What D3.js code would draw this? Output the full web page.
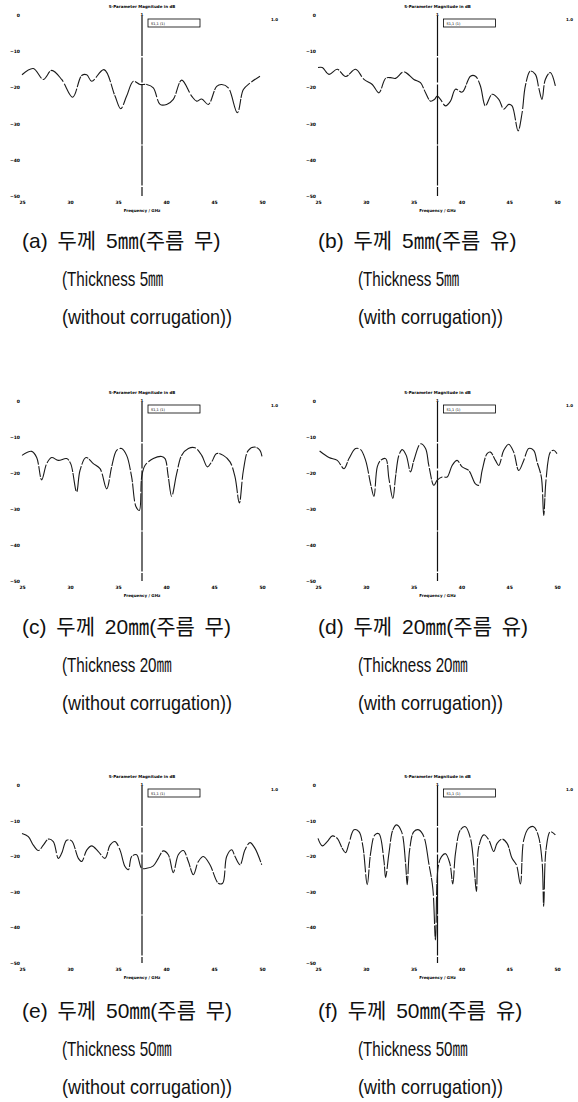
<!DOCTYPE html>
<html>
<head>
<meta charset="utf-8">
<script src="https://cdn.jsdelivr.net/npm/d3@7"></script>
<style>
body { margin: 0; background: #fff; }
.tiny { font-family: "DejaVu Sans", sans-serif; font-weight: bold; fill: #000; }
.cap { font-family: "Liberation Sans", "Noto Sans CJK KR", sans-serif; font-size: 20px; fill: #111; }
</style>
</head>
<body>
<div id="chart"></div>
<script>
// axis ticks
var freqTicks = [25, 30, 35, 40, 45, 50];
var dbTicks = [0, -10, -20, -30, -40, -50];
var markerFreq = 37.5;

// (a) 5mm without corrugation
var freqA = [25.0, 26.18, 27.22, 28.09, 29.13, 30.28, 31.22, 31.74, 32.26, 33.54, 34.69, 35.28, 35.90, 36.60, 37.29, 37.99, 38.68, 39.38, 40.07, 40.76, 41.63, 42.67, 43.19, 43.72, 44.41, 45.28, 45.80, 46.49, 47.43, 48.06, 48.75, 49.79];
var dbA = [-16.5, -14.8, -17.8, -15.3, -17.8, -22.7, -16.7, -16.5, -18.3, -15.1, -22.4, -25.9, -22.4, -18.3, -19.2, -19.2, -20.1, -24.7, -24.7, -23.3, -18.0, -22.4, -23.8, -23.2, -24.7, -19.7, -19.2, -20.1, -27.0, -20.6, -18.8, -16.9];

// (b) 5mm with corrugation
var freqB = [25.0, 25.45, 26.15, 27.02, 27.89, 28.93, 29.81, 30.68, 31.37, 32.07, 32.59, 33.11, 33.98, 35.03, 35.72, 36.25, 36.77, 37.19, 37.47, 37.81, 38.34, 38.86, 39.38, 40.08, 40.95, 41.47, 41.99, 42.51, 43.21, 43.91, 44.43, 44.95, 45.30, 45.93, 46.35, 46.69, 47.21, 47.74, 48.09, 48.43, 48.78, 49.30, 49.83];
var dbB = [-14.5, -14.5, -16.4, -15.0, -17.0, -15.0, -17.8, -19.2, -21.5, -17.5, -17.3, -17.5, -15.7, -17.8, -18.7, -21.5, -23.8, -23.3, -22.4, -23.3, -25.1, -23.8, -20.5, -21.3, -16.9, -16.9, -19.6, -25.1, -21.9, -23.3, -26.0, -24.7, -25.1, -32.0, -27.0, -19.6, -15.5, -16.4, -20.1, -23.3, -17.8, -15.9, -19.6];

// (c) 20mm without corrugation
var freqC = [25.0, 26.01, 26.53, 27.05, 27.57, 28.09, 28.78, 29.65, 30.07, 30.69, 31.04, 31.67, 32.43, 33.13, 33.82, 34.34, 34.86, 35.38, 35.90, 36.42, 36.88, 37.22, 37.47, 37.81, 38.68, 39.55, 39.90, 40.24, 40.59, 41.11, 41.63, 42.33, 43.02, 43.72, 44.31, 44.76, 45.28, 45.97, 46.67, 47.19, 47.64, 48.06, 48.58, 49.27, 49.79, 50.0];
var dbC = [-15.1, -14.0, -15.7, -21.9, -17.4, -15.7, -16.5, -16.0, -17.4, -25.3, -19.3, -15.7, -17.4, -18.8, -24.4, -18.3, -13.7, -13.2, -15.1, -21.1, -29.4, -30.4, -21.1, -17.9, -16.0, -15.4, -16.0, -21.1, -26.5, -20.2, -15.1, -13.2, -13.0, -15.1, -18.3, -16.9, -14.6, -15.1, -16.9, -21.1, -28.3, -19.3, -13.7, -12.8, -13.7, -15.4];

// (d) 20mm with corrugation
var freqD = [25.17, 26.15, 27.02, 27.72, 28.24, 28.93, 29.46, 29.98, 30.50, 30.85, 31.20, 31.55, 32.07, 32.42, 32.83, 33.11, 33.46, 33.81, 34.23, 34.68, 35.03, 35.72, 36.25, 36.59, 37.12, 37.47, 37.99, 38.51, 39.03, 39.55, 40.08, 40.77, 41.47, 41.82, 42.17, 42.69, 43.04, 43.56, 43.91, 44.43, 44.95, 45.47, 46.00, 46.52, 47.04, 47.56, 47.91, 48.36, 48.61, 48.85, 49.30, 49.65, 50.0];
var dbD = [-13.9, -15.7, -16.5, -18.8, -16.0, -13.2, -13.5, -16.5, -23.0, -26.5, -18.3, -16.5, -16.0, -21.6, -27.1, -21.1, -15.1, -13.5, -15.1, -19.7, -16.5, -11.9, -13.2, -17.9, -23.4, -22.0, -21.1, -21.1, -17.9, -16.5, -18.3, -19.3, -23.0, -23.4, -19.3, -14.6, -14.2, -16.5, -17.9, -13.7, -12.0, -14.2, -19.3, -16.5, -13.2, -13.7, -16.9, -21.1, -31.8, -22.0, -14.2, -13.7, -14.6];

// (e) 50mm without corrugation
var freqE = [25.0, 25.66, 26.18, 26.70, 27.22, 27.74, 28.26, 28.78, 29.13, 29.65, 30.17, 30.87, 31.22, 31.74, 32.26, 32.95, 33.65, 34.17, 34.69, 35.21, 35.73, 36.08, 36.42, 36.94, 37.47, 37.99, 38.68, 39.20, 39.72, 40.24, 40.76, 41.28, 41.81, 42.33, 42.85, 43.37, 43.89, 44.58, 45.45, 45.90, 46.32, 46.84, 47.19, 47.71, 48.23, 48.75, 49.27, 49.97];
var dbE = [-13.6, -14.5, -16.9, -18.4, -16.9, -15.2, -15.9, -20.6, -19.2, -15.5, -15.7, -20.6, -21.5, -18.3, -17.1, -18.7, -20.6, -16.9, -15.9, -18.3, -22.9, -23.8, -20.1, -19.6, -23.4, -23.4, -22.7, -20.6, -18.5, -19.6, -24.6, -19.6, -18.4, -21.5, -25.2, -21.5, -20.1, -22.4, -27.6, -27.6, -20.1, -18.2, -20.1, -22.4, -18.2, -16.2, -17.8, -22.4];

// (f) 50mm with corrugation
var freqF = [25.0, 25.45, 25.97, 26.50, 27.02, 27.54, 27.89, 28.24, 28.76, 29.28, 29.70, 30.15, 30.50, 30.95, 31.37, 31.89, 32.07, 32.42, 32.83, 33.22, 33.74, 34.16, 34.33, 34.58, 35.03, 35.55, 36.07, 36.59, 37.01, 37.29, 37.57, 37.92, 38.34, 38.79, 39.10, 39.38, 39.90, 40.42, 40.95, 41.36, 41.57, 41.82, 42.34, 42.86, 43.38, 43.73, 44.26, 44.78, 45.30, 45.75, 46.17, 46.52, 47.04, 47.56, 48.02, 48.43, 48.61, 48.85, 49.30, 49.83];
var dbF = [-15.0, -17.1, -15.9, -14.3, -15.0, -17.8, -19.0, -16.4, -12.6, -13.1, -17.3, -28.0, -19.2, -14.0, -13.7, -21.1, -26.0, -19.2, -12.6, -11.2, -13.1, -22.0, -28.0, -18.3, -13.1, -12.6, -14.5, -22.0, -29.0, -43.5, -23.0, -20.1, -19.3, -22.0, -27.8, -19.2, -12.6, -11.7, -15.0, -24.3, -29.9, -17.3, -14.0, -15.4, -18.7, -16.4, -15.2, -16.4, -20.6, -22.4, -27.8, -15.4, -12.1, -11.7, -14.0, -21.1, -34.1, -18.2, -13.1, -14.0];

// captions
var captionKo = ["(a) 두께 5㎜(주름 무)", "(b) 두께 5㎜(주름 유)", "(c) 두께 20㎜(주름 무)", "(d) 두께 20㎜(주름 유)", "(e) 두께 50㎜(주름 무)", "(f) 두께 50㎜(주름 유)"];
var captionThick = ["(Thickness 5㎜", "(Thickness 5㎜", "(Thickness 20㎜", "(Thickness 20㎜", "(Thickness 50㎜", "(Thickness 50㎜"];
var captionCorr = ["(without corrugation))", "(with corrugation))", "(without corrugation))", "(with corrugation))", "(without corrugation))", "(with corrugation))"];

var freqs = [freqA, freqB, freqC, freqD, freqE, freqF];
var dbs = [dbA, dbB, dbC, dbD, dbE, dbF];

var width = 578, height = 1102;
var cols = [{left: 22, right: 262, capX: 22}, {left: 318, right: 557, capX: 318}];
var rows = [{top: 15, bottom: 196, capY: 248}, {top: 401, bottom: 581, capY: 634}, {top: 785, bottom: 963, capY: 1018}];

var svg = d3.select("#chart").append("svg")
    .attr("width", width)
    .attr("height", height);

freqs.forEach(function(fr, i) {
    var c = cols[i % 2], r = rows[Math.floor(i / 2)];
    var x = d3.scaleLinear().domain([25, 50]).range([c.left, c.right]);
    var y = d3.scaleLinear().domain([-50, 0]).range([r.bottom, r.top]);
    var g = svg.append("g");
    var mid = (c.left + c.right) / 2;

    // y labels
    var ya = g.append("g")
        .attr("transform", "translate(" + (c.left - 2) + ",0)")
        .call(d3.axisLeft(y).tickValues(dbTicks).tickSize(0).tickPadding(0));
    ya.select(".domain").remove();
    ya.attr("font-size", null).attr("font-family", null);
    ya.selectAll("text").attr("class", "tiny").style("font-size", "4.5px");

    // x labels
    var xa = g.append("g")
        .attr("transform", "translate(0," + (r.bottom + 5) + ")")
        .call(d3.axisBottom(x).tickValues(freqTicks).tickSize(0).tickPadding(0));
    xa.select(".domain").remove();
    xa.attr("font-size", null).attr("font-family", null);
    xa.selectAll("text").attr("class", "tiny").style("font-size", "4.5px");

    g.append("text").attr("class", "tiny")
        .attr("x", mid).attr("y", r.top - 7)
        .attr("text-anchor", "middle").style("font-size", "4px")
        .text("S-Parameter Magnitude in dB");

    g.append("text").attr("class", "tiny")
        .attr("x", mid).attr("y", r.bottom + 16)
        .attr("text-anchor", "middle").style("font-size", "4px")
        .text("Frequency / GHz");

    g.append("text").attr("class", "tiny")
        .attr("x", c.right + 9).attr("y", r.top + 6)
        .style("font-size", "4px")
        .text("1.0");

    // marker
    var mx = x(markerFreq);
    g.append("line")
        .attr("x1", mx).attr("x2", mx)
        .attr("y1", r.top + 1).attr("y2", r.bottom)
        .attr("stroke", "#111").attr("stroke-width", 1.2)
        .attr("stroke-dasharray", "40,1.5,25,2,60,1");
    g.append("text").attr("class", "tiny")
        .attr("x", mx).attr("y", r.top + 1)
        .attr("text-anchor", "middle").style("font-size", "4px")
        .text("1");

    // legend box
    g.append("rect")
        .attr("x", mx + 6).attr("y", r.top + 4)
        .attr("width", 52).attr("height", 8)
        .attr("fill", "#fff").attr("stroke", "#000").attr("stroke-width", 0.8);
    g.append("text").attr("class", "tiny")
        .attr("x", mx + 9).attr("y", r.top + 9.5)
        .style("font-size", "3.5px").style("font-weight", "normal")
        .text("S1,1     (1)");

    // curve
    var line = d3.line()
        .x(function(d, k) { return x(fr[k]); })
        .y(function(d) { return y(d); })
        .curve(d3.curveCatmullRom.alpha(0.5));
    g.append("path")
        .attr("d", line(dbs[i]))
        .attr("fill", "none")
        .attr("stroke", "#1a1a1a")
        .attr("stroke-width", 1.1)
        .attr("stroke-dasharray", "26,1.5,11,1,18,2");

    // caption
    var cy = r.capY;
    svg.append("text").attr("class", "cap")
        .attr("x", c.capX).attr("y", cy)
        .style("font-size", "21px")
        .style("word-spacing", "4px")
        .text(captionKo[i]);
    svg.append("text").attr("class", "cap")
        .attr("transform", "translate(" + (c.capX + 40) + "," + (cy + 38) + ") scale(0.76,1)")
        .text(captionThick[i]);
    svg.append("text").attr("class", "cap")
        .attr("transform", "translate(" + (c.capX + 40) + "," + (cy + 76) + ") scale(0.9,1)")
        .text(captionCorr[i]);
});
</script>
</body>
</html>
